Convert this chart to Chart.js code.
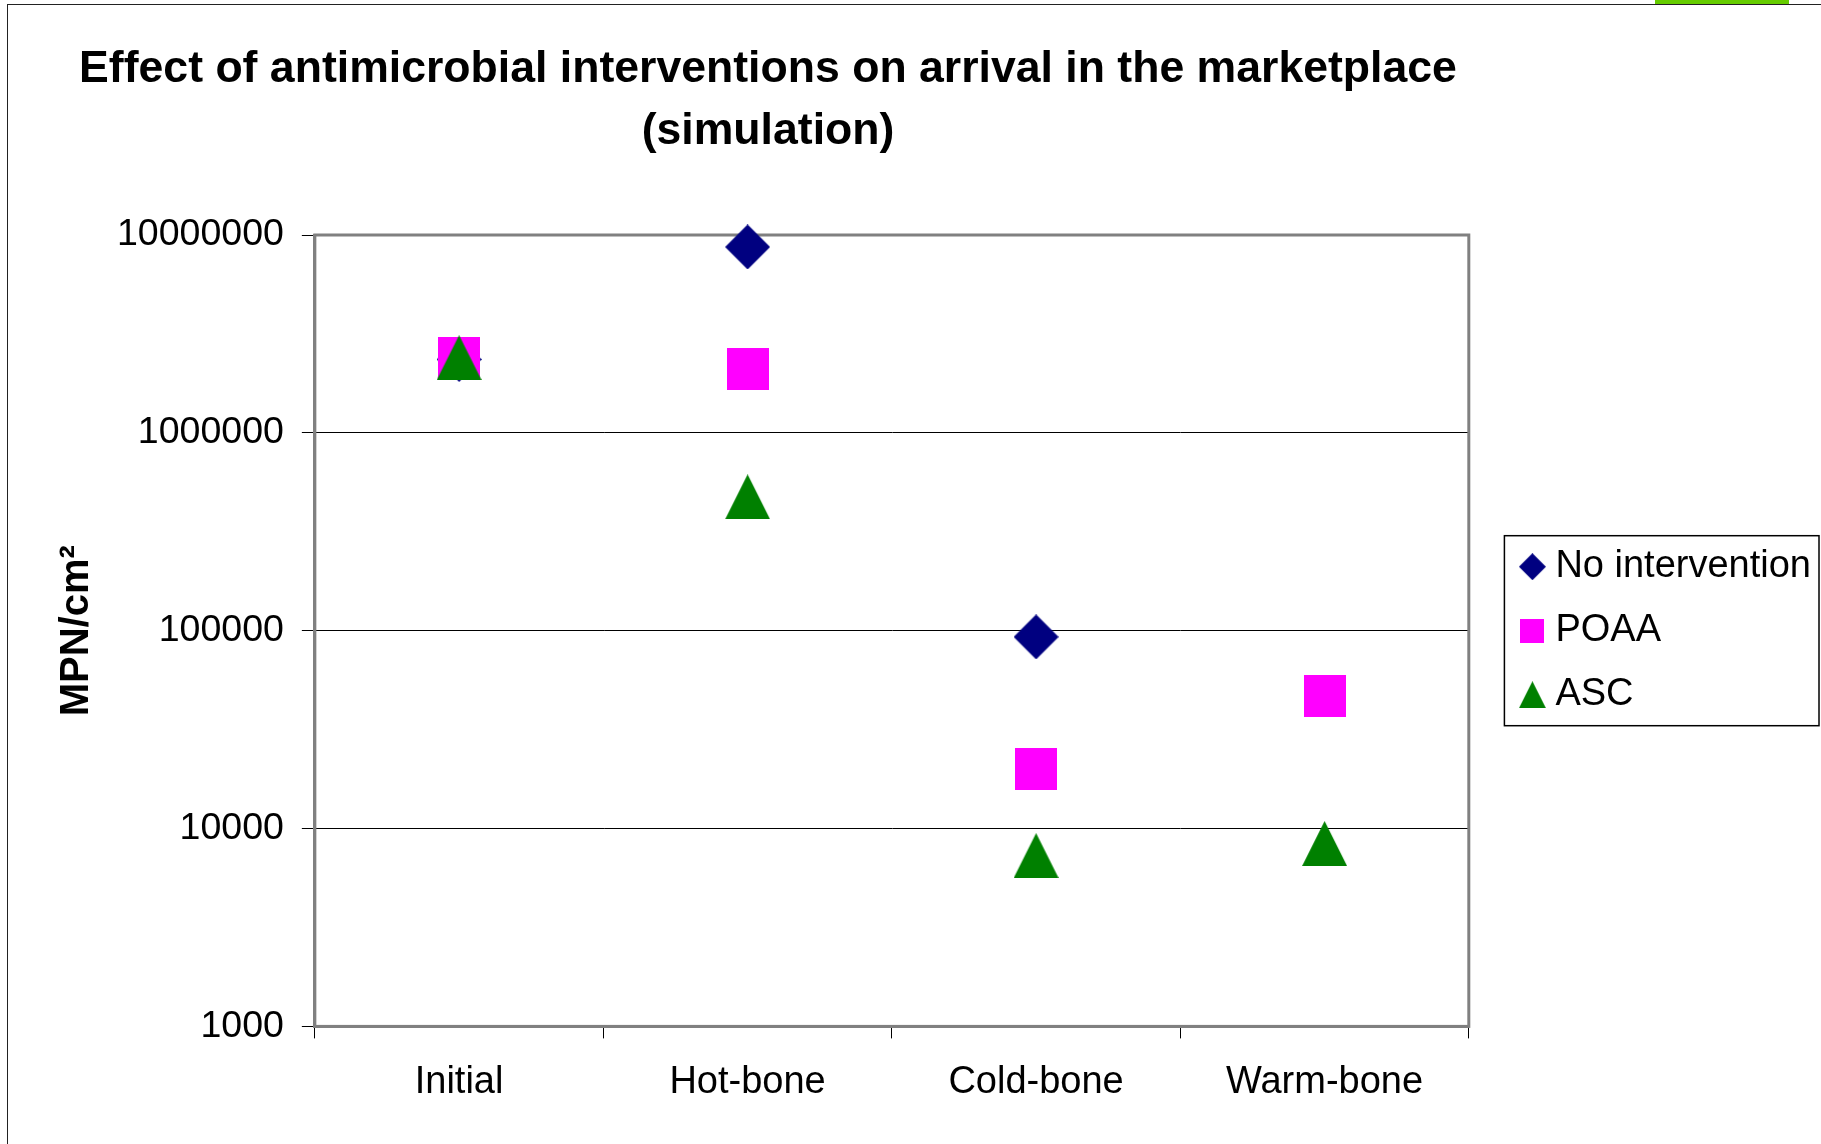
<!DOCTYPE html>
<html>
<head>
<meta charset="utf-8">
<script src="https://cdn.jsdelivr.net/npm/chart.js@4.4.1/dist/chart.umd.min.js"></script>
<style>
  html, body { margin: 0; padding: 0; background: #fff; overflow: hidden; }
  #wrap { position: absolute; left: 0; top: 0; width: 1821px; height: 1144px; }
  #frame { position: absolute; left: 7px; top: 4px; width: 1900px; height: 1200px;
           border-left: 1.5px solid #222; border-top: 1.5px solid #222; }
  #green { position: absolute; left: 1655px; top: 0; width: 134px; height: 4px; background: #66cc00; }
  canvas { position: absolute; left: 0; top: 0; }
</style>
</head>
<body>
<div id="wrap">
  <div id="frame"></div>
  <div id="green"></div>
  <canvas id="c" width="1821" height="1144"></canvas>
</div>
<script>
const titleLines = ['Effect of antimicrobial interventions on arrival in the marketplace', '(simulation)'];
const yAxisTitle = 'MPN/cm²';
const categories = ['Initial', 'Hot-bone', 'Cold-bone', 'Warm-bone'];
const seriesNames = ['No intervention', 'POAA', 'ASC'];
const noIntervention = [2350000, 8700000, 93000, null];
const poaa = [2400000, 2100000, 20000, 47000];
const asc = [2400000, 475000, 7300, 8400];
const yTicks = [1000, 10000, 100000, 1000000, 10000000];
const seriesColors = ['#000080', '#FF00FF', '#008000'];

function marker(shape, w, h, color) {
  const c = document.createElement('canvas');
  c.width = w; c.height = h;
  const g = c.getContext('2d');
  g.fillStyle = color;
  g.beginPath();
  if (shape === 'diamond') {
    g.moveTo(w / 2, 0); g.lineTo(w, h / 2); g.lineTo(w / 2, h); g.lineTo(0, h / 2);
  } else if (shape === 'square') {
    g.rect(0, 0, w, h);
  } else {
    g.moveTo(w / 2, 0); g.lineTo(w, h); g.lineTo(0, h);
  }
  g.closePath();
  g.fill();
  return c;
}

const plotMarkers = [
  marker('diamond', 45, 45, seriesColors[0]),
  marker('square', 42, 42, seriesColors[1]),
  marker('triangle', 45, 45, seriesColors[2])
];
const legendMarkers = [
  marker('diamond', 27, 27, seriesColors[0]),
  marker('square', 24, 24, seriesColors[1]),
  marker('triangle', 27, 27, seriesColors[2])
];

const FONT = '"Liberation Sans", Arial, Helvetica, sans-serif';

const titlePlugin = {
  id: 'titleText',
  afterDraw(chart) {
    const ctx = chart.ctx;
    ctx.save();
    ctx.font = 'bold 44.6px ' + FONT;
    ctx.fillStyle = '#000';
    ctx.textAlign = 'center';
    ctx.textBaseline = 'alphabetic';
    titleLines.forEach((t, i) => ctx.fillText(t, 768, 82 + i * 62));
    ctx.restore();
  }
};

const plotBorderPlugin = {
  id: 'plotBorder',
  beforeDatasetsDraw(chart) {
    const a = chart.chartArea, ctx = chart.ctx;
    ctx.save();
    ctx.strokeStyle = '#808080';
    ctx.lineWidth = 3;
    ctx.strokeRect(a.left, a.top, a.right - a.left, a.bottom - a.top);
    ctx.restore();
  }
};

const legendBoxPlugin = {
  id: 'legendBox',
  afterDraw(chart) {
    const hb = chart.legend && chart.legend.legendHitBoxes;
    if (!hb || !hb.length) return;
    const first = hb[0], last = hb[hb.length - 1];
    const left = first.left - 24;
    const top = first.top - 12;
    const bottom = last.top + last.height + 12;
    const right = 1819;
    const ctx = chart.ctx;
    ctx.save();
    ctx.strokeStyle = '#000';
    ctx.lineWidth = 1.5;
    ctx.strokeRect(left, top, right - left, bottom - top);
    ctx.restore();
  }
};

const seriesData = [noIntervention, poaa, asc];

new Chart(document.getElementById('c'), {
  type: 'line',
  data: {
    labels: categories,
    datasets: seriesNames.map((name, i) => ({
      label: name,
      data: seriesData[i],
      showLine: false,
      pointStyle: plotMarkers[i],
      pointRadius: 20,
      pointHoverRadius: 20,
      backgroundColor: seriesColors[i],
      borderColor: seriesColors[i],
      clip: false,
      order: 3 - i
    }))
  },
  options: {
    responsive: false,
    animation: false,
    events: [],
    layout: { autoPadding: false, padding: { left: 49, top: 235, right: 0, bottom: 17 } },
    plugins: {
      title: { display: false },
      tooltip: { enabled: false },
      legend: {
        display: true,
        position: 'right',
        align: 'center',
        fullSize: false,
        maxWidth: 360,
        labels: {
          font: { family: FONT, size: 38 },
          color: '#000',
          padding: 26,
          boxWidth: 8,
          boxHeight: 24,
          usePointStyle: true,
          generateLabels(chart) {
            return chart.data.datasets.map((ds, i) => ({
              text: ds.label,
              fillStyle: seriesColors[i],
              strokeStyle: seriesColors[i],
              lineWidth: 0,
              pointStyle: legendMarkers[i],
              hidden: false,
              datasetIndex: i,
              fontColor: '#000'
            }));
          }
        }
      }
    },
    scales: {
      x: {
        type: 'category',
        offset: true,
        grid: { display: true, offset: true, drawOnChartArea: false, drawTicks: true, tickLength: 12, color: '#000', lineWidth: 1 },
        border: { display: true, color: '#808080', width: 3 },
        ticks: { font: { family: FONT, size: 38 }, color: '#000', padding: 21.5, maxRotation: 0, autoSkip: false }
      },
      y: {
        type: 'logarithmic',
        min: yTicks[0],
        max: yTicks[yTicks.length - 1],
        afterBuildTicks(scale) { scale.ticks = yTicks.map(v => ({ value: v, major: true })); },
        grid: { display: true, color: '#000', lineWidth: 1, drawTicks: true, tickLength: 13 },
        border: { display: true, color: '#808080', width: 3 },
        ticks: { font: { family: FONT, size: 37.5 }, color: '#000', padding: 18,
                 callback: (v) => String(Math.round(v)) },
        title: { display: true, text: yAxisTitle, color: '#000',
                 font: { family: FONT, size: 40, weight: 'bold' },
                 padding: { top: 3.5, bottom: -1.5 } }
      },
      gap: {
        type: 'linear',
        position: 'right',
        display: true,
        grid: { display: false, drawTicks: false },
        border: { display: false },
        ticks: { display: false },
        afterFit(s) { s.width = 33.6; }
      }
    }
  },
  plugins: [titlePlugin, plotBorderPlugin, legendBoxPlugin]
});
</script>
</body>
</html>
